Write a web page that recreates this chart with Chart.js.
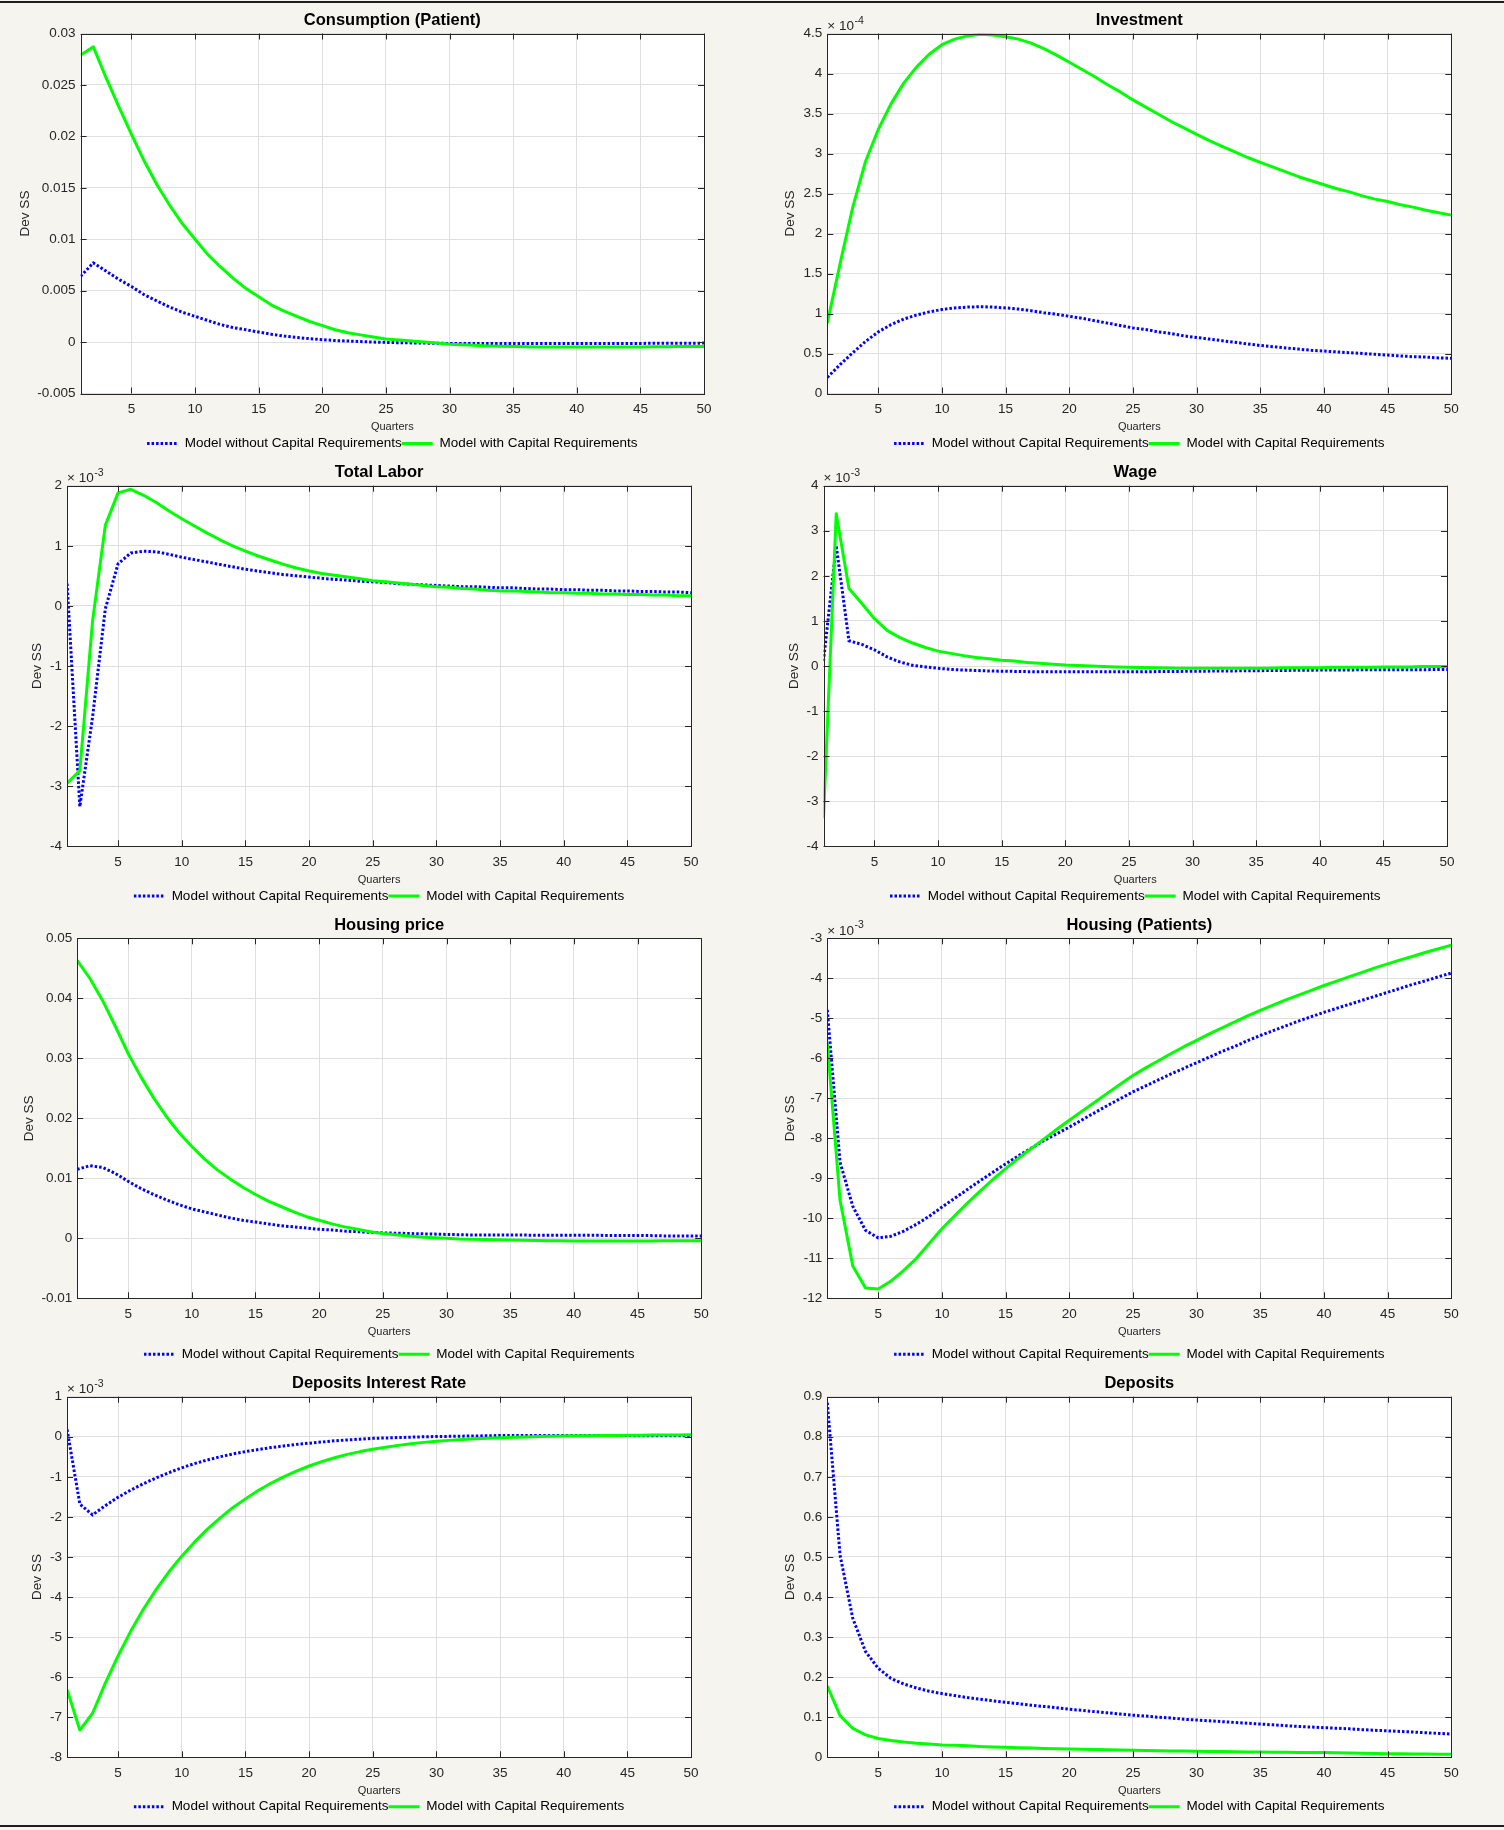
<!DOCTYPE html>
<html><head><meta charset="utf-8">
<script src="https://cdn.jsdelivr.net/npm/chart.js@4/dist/chart.umd.min.js"></script>
<style>
html,body{margin:0;padding:0;background:#f6f4ee;}
#page{position:relative;width:1504px;height:1830px;overflow:hidden;background:#f6f4ee;}
.rule{position:absolute;left:0;width:1504px;height:2px;background:#1e1e1e;}
canvas{position:absolute;}
</style></head><body>
<div id="page"><div class="rule" style="top:1px"></div><div class="rule" style="top:1825px"></div></div>
<script>
// ---------- DATA ----------
const quarters = [1,2,3,4,5,6,7,8,9,10,11,12,13,14,15,16,17,18,19,20,21,22,23,24,25,26,27,28,29,30,31,32,33,34,35,36,37,38,39,40,41,42,43,44,45,46,47,48,49,50];
const seriesNames = ['Model without Capital Requirements', 'Model with Capital Requirements'];
const panelTitles = ['Consumption (Patient)','Investment','Total Labor','Wage','Housing price','Housing (Patients)','Deposits Interest Rate','Deposits'];
const xTickValues = [5,10,15,20,25,30,35,40,45,50];
const xTickLabels = ['5','10','15','20','25','30','35','40','45','50'];

// Consumption (Patient)
const consBlue = [0.0064,0.0077,0.0069,0.0061,0.0054,0.0046,0.0040,0.0034,0.0029,0.0025,0.0021,0.0017,0.0014,0.0012,0.00097,0.00076,0.00058,0.00044,0.00033,0.00023,0.00015,0.0001,0.00005,0.0,-0.00003,-0.00006,-0.00008,-0.0001,-0.00012,-0.00013,-0.00014,-0.00014,-0.00014,-0.00014,-0.00014,-0.00014,-0.00014,-0.00014,-0.00014,-0.00014,-0.00013,-0.00013,-0.00013,-0.00013,-0.00013,-0.00012,-0.00012,-0.00012,-0.00011,-0.0001];
const consGreen = [0.0279,0.0287,0.0257,0.0229,0.0202,0.0176,0.0153,0.0133,0.0115,0.0100,0.0085,0.0073,0.0062,0.0052,0.0044,0.0036,0.0030,0.0025,0.0020,0.0016,0.0012,0.0009,0.0007,0.0005,0.0003,0.0002,0.0001,0.0,-0.0001,-0.0002,-0.00027,-0.00032,-0.00037,-0.0004,-0.00043,-0.00045,-0.00047,-0.00048,-0.00048,-0.00048,-0.00048,-0.00048,-0.00047,-0.00047,-0.00047,-0.00046,-0.00045,-0.00044,-0.00043,-0.00042];
const consYTicks = [-0.005,0,0.005,0.01,0.015,0.02,0.025,0.03];
const consYLabels = ['-0.005','0','0.005','0.01','0.015','0.02','0.025','0.03'];

// Investment (x 10^-4)
const invBlue = [0.20,0.36,0.51,0.65,0.77,0.86,0.93,0.98,1.02,1.05,1.07,1.08,1.085,1.08,1.07,1.055,1.035,1.01,0.99,0.965,0.94,0.91,0.88,0.85,0.82,0.80,0.77,0.75,0.72,0.70,0.68,0.66,0.64,0.62,0.60,0.585,0.57,0.555,0.54,0.53,0.52,0.51,0.50,0.49,0.48,0.47,0.46,0.455,0.445,0.44];
const invGreen = [0.88,1.62,2.33,2.9,3.3,3.62,3.88,4.08,4.24,4.36,4.43,4.47,4.49,4.48,4.46,4.43,4.38,4.31,4.23,4.14,4.05,3.96,3.86,3.77,3.67,3.58,3.49,3.40,3.32,3.24,3.16,3.09,3.02,2.95,2.89,2.83,2.77,2.71,2.66,2.61,2.56,2.52,2.47,2.43,2.40,2.36,2.33,2.29,2.26,2.23];
const invYTicks = [0,0.5,1,1.5,2,2.5,3,3.5,4,4.5];
const invYLabels = ['0','0.5','1','1.5','2','2.5','3','3.5','4','4.5'];

// Total Labor (x 10^-3)
const labBlue = [0.37,-3.34,-1.85,-0.05,0.70,0.88,0.91,0.90,0.86,0.81,0.77,0.73,0.69,0.65,0.61,0.58,0.55,0.52,0.50,0.48,0.46,0.44,0.43,0.41,0.40,0.39,0.37,0.36,0.35,0.34,0.33,0.32,0.32,0.31,0.30,0.30,0.29,0.28,0.28,0.27,0.27,0.26,0.26,0.25,0.25,0.24,0.24,0.23,0.23,0.22];
const labGreen = [-2.95,-2.74,-0.25,1.34,1.88,1.94,1.84,1.72,1.58,1.45,1.33,1.21,1.10,1.00,0.91,0.83,0.76,0.69,0.63,0.58,0.54,0.51,0.48,0.45,0.42,0.40,0.38,0.36,0.34,0.32,0.31,0.29,0.28,0.26,0.25,0.25,0.24,0.23,0.22,0.22,0.21,0.21,0.20,0.20,0.19,0.19,0.18,0.18,0.17,0.17];
const labYTicks = [-4,-3,-2,-1,0,1,2];
const labYLabels = ['-4','-3','-2','-1','0','1','2'];

// Wage (x 10^-3)
const wageBlue = [0.11,2.67,0.56,0.48,0.36,0.20,0.09,0.015,-0.02,-0.05,-0.075,-0.09,-0.10,-0.11,-0.115,-0.12,-0.125,-0.128,-0.13,-0.13,-0.13,-0.13,-0.13,-0.13,-0.13,-0.13,-0.125,-0.12,-0.12,-0.115,-0.115,-0.11,-0.11,-0.105,-0.105,-0.10,-0.10,-0.095,-0.095,-0.09,-0.09,-0.09,-0.085,-0.085,-0.085,-0.083,-0.082,-0.081,-0.08,-0.08];
const wageGreen = [-3.38,3.38,1.72,1.39,1.05,0.79,0.63,0.51,0.41,0.33,0.28,0.23,0.19,0.16,0.13,0.11,0.08,0.06,0.04,0.02,0.01,0.0,-0.01,-0.02,-0.03,-0.035,-0.04,-0.045,-0.05,-0.05,-0.05,-0.05,-0.05,-0.05,-0.05,-0.05,-0.04,-0.04,-0.04,-0.04,-0.03,-0.03,-0.03,-0.03,-0.02,-0.02,-0.02,-0.01,-0.01,-0.01];
const wageYTicks = [-4,-3,-2,-1,0,1,2,3,4];
const wageYLabels = ['-4','-3','-2','-1','0','1','2','3','4'];

// Housing price
const hpBlue = [0.0115,0.0121,0.0118,0.0108,0.0095,0.0083,0.0073,0.0064,0.0056,0.0049,0.0044,0.0039,0.0034,0.0030,0.0027,0.0024,0.0021,0.0019,0.0017,0.0015,0.0014,0.0012,0.0011,0.0010,0.0009,0.00085,0.0008,0.00075,0.0007,0.00065,0.0006,0.00055,0.00055,0.00055,0.00055,0.00055,0.0005,0.0005,0.0005,0.0005,0.0005,0.0005,0.00045,0.00045,0.00045,0.00045,0.0004,0.0004,0.0004,0.0004];
const hpGreen = [0.0463,0.0433,0.0396,0.0353,0.0308,0.0269,0.0234,0.0203,0.0176,0.0153,0.0132,0.0114,0.0099,0.0085,0.0073,0.0062,0.0053,0.0044,0.0036,0.0030,0.0024,0.0019,0.0015,0.0011,0.0008,0.0006,0.0004,0.0002,0.0001,0.0,-0.0001,-0.00015,-0.0002,-0.00025,-0.0003,-0.00033,-0.00036,-0.0004,-0.00042,-0.00044,-0.00044,-0.00044,-0.00044,-0.00044,-0.00044,-0.00044,-0.0004,-0.0004,-0.0004,-0.0004];
const hpYTicks = [-0.01,0,0.01,0.02,0.03,0.04,0.05];
const hpYLabels = ['-0.01','0','0.01','0.02','0.03','0.04','0.05'];

// Housing (Patients) (x 10^-3)
const hhBlue = [-4.79,-8.6,-9.7,-10.3,-10.49,-10.45,-10.32,-10.15,-9.95,-9.72,-9.5,-9.28,-9.06,-8.85,-8.64,-8.44,-8.25,-8.06,-7.89,-7.72,-7.54,-7.36,-7.18,-7.01,-6.84,-6.69,-6.54,-6.39,-6.25,-6.11,-5.97,-5.83,-5.7,-5.56,-5.43,-5.31,-5.19,-5.07,-4.96,-4.85,-4.75,-4.65,-4.55,-4.45,-4.35,-4.25,-4.15,-4.06,-3.96,-3.87];
const hhGreen = [-5.62,-9.55,-11.19,-11.74,-11.77,-11.57,-11.3,-11.0,-10.63,-10.26,-9.94,-9.62,-9.32,-9.03,-8.76,-8.5,-8.26,-8.02,-7.78,-7.55,-7.32,-7.1,-6.87,-6.65,-6.43,-6.24,-6.06,-5.88,-5.71,-5.55,-5.39,-5.24,-5.09,-4.94,-4.8,-4.67,-4.54,-4.42,-4.3,-4.18,-4.07,-3.96,-3.85,-3.74,-3.64,-3.54,-3.45,-3.35,-3.26,-3.17];
const hhYTicks = [-12,-11,-10,-9,-8,-7,-6,-5,-4,-3];
const hhYLabels = ['-12','-11','-10','-9','-8','-7','-6','-5','-4','-3'];

// Deposits Interest Rate (x 10^-3)
const dirBlue = [0.18,-1.68,-1.95,-1.72,-1.51,-1.33,-1.17,-1.025,-0.895,-0.775,-0.67,-0.58,-0.5,-0.43,-0.37,-0.32,-0.27,-0.23,-0.19,-0.16,-0.13,-0.1,-0.08,-0.06,-0.04,-0.03,-0.02,-0.01,0.0,0.005,0.01,0.015,0.02,0.025,0.03,0.03,0.03,0.03,0.03,0.03,0.03,0.03,0.03,0.03,0.03,0.025,0.025,0.025,0.025,0.025];
const dirGreen = [-6.31,-7.32,-6.9,-6.15,-5.47,-4.85,-4.3,-3.81,-3.37,-2.98,-2.63,-2.31,-2.03,-1.77,-1.55,-1.34,-1.16,-1.0,-0.855,-0.73,-0.62,-0.525,-0.44,-0.37,-0.31,-0.26,-0.215,-0.175,-0.14,-0.113,-0.09,-0.07,-0.05,-0.035,-0.023,-0.012,-0.003,0.005,0.012,0.018,0.023,0.027,0.031,0.034,0.037,0.04,0.042,0.044,0.046,0.048];
const dirYTicks = [-8,-7,-6,-5,-4,-3,-2,-1,0,1];
const dirYLabels = ['-8','-7','-6','-5','-4','-3','-2','-1','0','1'];

// Deposits
const depBlue = [0.885,0.505,0.347,0.264,0.222,0.197,0.183,0.173,0.165,0.159,0.154,0.149,0.145,0.141,0.137,0.134,0.13,0.127,0.1235,0.12,0.117,0.114,0.111,0.108,0.105,0.103,0.1,0.098,0.095,0.093,0.091,0.089,0.087,0.085,0.083,0.081,0.079,0.077,0.0755,0.074,0.0725,0.071,0.069,0.0675,0.066,0.0645,0.063,0.0613,0.0597,0.058];
const depGreen = [0.178,0.104,0.072,0.056,0.047,0.042,0.038,0.035,0.033,0.031,0.030,0.029,0.027,0.026,0.025,0.024,0.023,0.022,0.0215,0.021,0.0202,0.0195,0.0188,0.018,0.0175,0.017,0.0165,0.016,0.0155,0.015,0.0146,0.0142,0.0138,0.0134,0.013,0.0127,0.0124,0.0121,0.0119,0.0117,0.0112,0.0107,0.0102,0.0096,0.009,0.0087,0.0084,0.0081,0.0078,0.0075];
const depYTicks = [0,0.1,0.2,0.3,0.4,0.5,0.6,0.7,0.8,0.9];
const depYLabels = ['0','0.1','0.2','0.3','0.4','0.5','0.6','0.7','0.8','0.9'];

// axis exponent labels (power of ten shown above the axis)
const exponents = [null,'-4','-3','-3',null,'-3','-3',null];

// ---------- LAYOUT (page pixels) ----------
const layout = [
  {L:80.6,  T:33.5,   R:704.0,  B:393.5,  d:55.6, leg:50},
  {L:827.3, T:33.5,   R:1451.3, B:393.5,  d:36.9, leg:50},
  {L:67.1,  T:485.7,  R:691.1,  B:846.3,  d:29.7, leg:49.7},
  {L:823.5, T:485.7,  R:1447.0, B:846.3,  d:29.3, leg:49.7},
  {L:77.2,  T:938.3,  R:701.2,  B:1298.3, d:48.4, leg:56},
  {L:827.3, T:938.3,  R:1451.3, B:1298.3, d:36.9, leg:56},
  {L:67.1,  T:1396.7, R:691.1,  B:1757.3, d:29.7, leg:49.4},
  {L:827.3, T:1396.7, R:1451.3, B:1757.3, d:36.9, leg:49.4}
];
const panelData = [
  [consBlue, consGreen, consYTicks, consYLabels],
  [invBlue, invGreen, invYTicks, invYLabels],
  [labBlue, labGreen, labYTicks, labYLabels],
  [wageBlue, wageGreen, wageYTicks, wageYLabels],
  [hpBlue, hpGreen, hpYTicks, hpYLabels],
  [hhBlue, hhGreen, hhYTicks, hhYLabels],
  [dirBlue, dirGreen, dirYTicks, dirYLabels],
  [depBlue, depGreen, depYTicks, depYLabels]
];

const FONT = "'Liberation Sans', Arial, Helvetica, sans-serif";
Chart.defaults.font.family = FONT;
Chart.defaults.color = '#262626';

const matlabAxes = {
  id: 'matlabAxes',
  beforeDraw(chart) {
    const a = chart.chartArea, ctx = chart.ctx;
    ctx.save();
    ctx.fillStyle = '#ffffff';
    ctx.fillRect(a.left, a.top, a.right - a.left, a.bottom - a.top);
    ctx.restore();
  },
  afterDatasetsDraw(chart, args, opts) {
    const {ctx, chartArea: a, scales: {x, y}} = chart;
    ctx.save();
    ctx.strokeStyle = '#262626';
    ctx.lineWidth = 1;
    const tl = 6;
    ctx.beginPath();
    x.ticks.forEach(t => {
      const px = Math.round(x.getPixelForValue(t.value)) + 0.5;
      ctx.moveTo(px, a.bottom); ctx.lineTo(px, a.bottom - tl);
      ctx.moveTo(px, a.top); ctx.lineTo(px, a.top + tl);
    });
    y.ticks.forEach(t => {
      const py = Math.round(y.getPixelForValue(t.value)) + 0.5;
      ctx.moveTo(a.left, py); ctx.lineTo(a.left + tl, py);
      ctx.moveTo(a.right, py); ctx.lineTo(a.right - tl, py);
    });
    ctx.stroke();
    const l = Math.round(a.left) + 0.5, t = Math.round(a.top) + 0.5;
    const r = Math.round(a.right) + 0.5, b = Math.round(a.bottom) + 0.5;
    ctx.strokeRect(l, t, r - l, b - t);
    if (opts.exp) {
      ctx.fillStyle = '#262626';
      ctx.textBaseline = 'alphabetic';
      ctx.textAlign = 'left';
      ctx.font = '13.5px ' + FONT;
      const base = '\u00d7 10';
      ctx.fillText(base, a.left, a.top - 3.5);
      const w = ctx.measureText(base).width;
      ctx.font = '10.5px ' + FONT;
      ctx.fillText(opts.exp, a.left + w + 0.5, a.top - 10);
    }
    ctx.restore();
  }
};

const page = document.getElementById('page');
const TITLE_SIZE = 16.5, TITLE_PADB = 3.1, PAD_TOP = 8;
const TICK_SIZE = 13.5, LEG_SIZE = 13.5;

panelTitles.forEach((title, i) => {
  const p = layout[i];
  const [blue, green, yTicks, yLabels] = panelData[i];
  const titleH = TITLE_SIZE * 1.2 + TITLE_PADB;
  const yW = p.d + TICK_SIZE * 1.2 / 2;
  const xH = p.leg - LEG_SIZE / 2;
  const legH = LEG_SIZE + 10;
  const cl = Math.floor(p.L - yW - 1);
  const ct = Math.floor(p.T - titleH - PAD_TOP);
  const cw = Math.ceil(p.R + 16 - cl);
  const ch = Math.ceil(p.B + xH + legH + 3 - ct);
  const pad = {
    left: p.L - yW - cl,
    top: p.T - titleH - ct,
    right: cl + cw - p.R,
    bottom: ct + ch - (p.B + xH + legH)
  };
  const cv = document.createElement('canvas');
  cv.width = cw; cv.height = ch;
  cv.style.left = cl + 'px'; cv.style.top = ct + 'px';
  cv.style.width = cw + 'px'; cv.style.height = ch + 'px';
  page.appendChild(cv);

  new Chart(cv, {
    type: 'line',
    data: {
      datasets: [
        {
          label: seriesNames[0],
          data: quarters.map((q, k) => ({x: q, y: blue[k]})),
          borderColor: '#0000ff', backgroundColor: '#0000ff',
          borderWidth: 3, borderDash: [2.5, 2], borderCapStyle: 'butt',
          pointRadius: 0, fill: false, tension: 0, order: 1
        },
        {
          label: seriesNames[1],
          data: quarters.map((q, k) => ({x: q, y: green[k]})),
          borderColor: '#00ff00', backgroundColor: '#00ff00',
          borderWidth: 3, borderJoinStyle: 'round',
          pointRadius: 0, fill: false, tension: 0, order: 0
        }
      ]
    },
    options: {
      responsive: false, animation: false, devicePixelRatio: 1, events: [],
      layout: {padding: pad},
      scales: {
        x: {
          type: 'linear', min: quarters[0], max: quarters[quarters.length - 1],
          afterBuildTicks: s => { s.ticks = xTickValues.map(v => ({value: v})); },
          afterFit: s => { s.height = xH; },
          ticks: {
            callback: (v, idx) => xTickLabels[idx],
            font: {size: TICK_SIZE}, color: '#262626', padding: 8,
            maxRotation: 0, autoSkip: false
          },
          grid: {color: '#dfdfdf', lineWidth: 1, drawTicks: false},
          border: {display: false},
          title: {display: true, text: 'Quarters', font: {size: 11}, color: '#262626',
                  padding: {top: 0, bottom: xH - 40}}
        },
        y: {
          type: 'linear', min: yTicks[0], max: yTicks[yTicks.length - 1],
          afterBuildTicks: s => { s.ticks = yTicks.map(v => ({value: v})); },
          afterFit: s => { s.width = yW; },
          ticks: {
            callback: (v, idx) => yLabels[idx],
            font: {size: TICK_SIZE}, color: '#262626', padding: 5, autoSkip: false
          },
          grid: {color: '#dfdfdf', lineWidth: 1, drawTicks: false},
          border: {display: false},
          title: {display: true, text: 'Dev SS', font: {size: 13.5}, color: '#262626', padding: 0}
        }
      },
      plugins: {
        tooltip: {enabled: false},
        title: {
          display: true, text: title, fullSize: false, color: '#000000',
          font: {size: TITLE_SIZE, weight: 'bold', lineHeight: 1.2},
          padding: {top: 0, bottom: TITLE_PADB}
        },
        legend: {
          display: true, position: 'bottom', fullSize: false,
          labels: {
            usePointStyle: true, pointStyle: 'line', pointStyleWidth: 31,
            padding: 0, color: '#000000', font: {size: LEG_SIZE},
            sort: (a, b) => a.datasetIndex - b.datasetIndex,
            generateLabels: (chart) => {
              const items = Chart.defaults.plugins.legend.labels.generateLabels(chart);
              items.forEach(it => {
                const ds = chart.data.datasets[it.datasetIndex];
                it.lineDash = ds.borderDash || [];
                it.lineWidth = ds.borderWidth;
                it.strokeStyle = ds.borderColor;
                it.lineCap = 'butt';
                it.pointStyle = 'line';
              });
              return items;
            }
          }
        },
        matlabAxes: {exp: exponents[i]}
      }
    },
    plugins: [matlabAxes]
  });
});
</script>
</body></html>
